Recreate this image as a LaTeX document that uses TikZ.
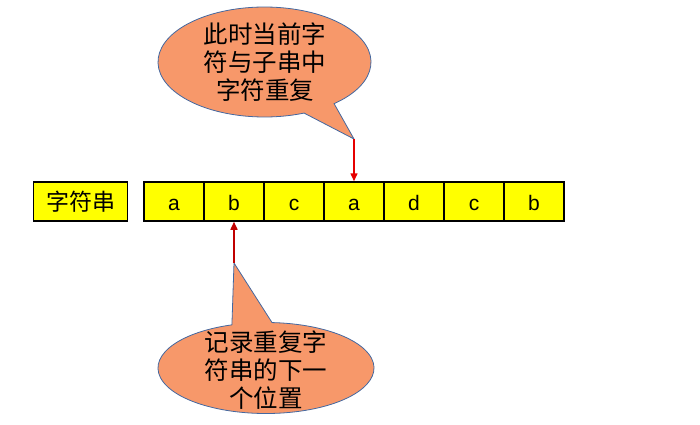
\documentclass[tikz,border=0pt]{standalone}
\usepackage{fontspec}
\setmainfont{Liberation Sans}
\newfontfamily\cjk{Noto Sans CJK SC}
\usetikzlibrary{arrows.meta,calc}
\definecolor{calloutfill}{RGB}{247,152,106}
\definecolor{calloutline}{RGB}{68,104,160}
\definecolor{boxyellow}{RGB}{255,255,0}
\definecolor{arrowred}{RGB}{230,0,0}
\definecolor{darkred}{RGB}{192,0,0}
\tikzset{
  cell/.style={draw=black, line width=1.5pt, fill=boxyellow, minimum width=60pt,
    minimum height=39pt, inner sep=0pt, font=\fontsize{21}{24}\selectfont,
    text height=19pt, text depth=1pt},
  labelbox/.style={draw=black, line width=1.5pt, fill=boxyellow, minimum width=94pt,
    minimum height=39pt, inner sep=0pt, font=\cjk\fontsize{23}{26}\selectfont},
  callout/.style={fill=calloutfill, draw=calloutline, line width=0.8pt, line join=round},
  callouttext/.style={align=center, inner sep=0pt, font=\cjk\fontsize{24.5}{28}\selectfont},
  pointer/.style={line width=1.5pt, -{Triangle[width=7pt,length=8pt]}}
}
\begin{document}
\begin{tikzpicture}[x=1pt,y=1pt]
\useasboundingbox (0,0) rectangle (700,424);
% string boxes
\node[labelbox] (lbl) at (80.5,222.5) {字符串};
\node[cell] (c1) at (174,222.5) {a};
\node[cell] (c2) at (234,222.5) {b};
\node[cell] (c3) at (294,222.5) {c};
\node[cell] (c4) at (354,222.5) {a};
\node[cell] (c5) at (414,222.5) {d};
\node[cell] (c6) at (474,222.5) {c};
\node[cell] (c7) at (534,222.5) {b};
% top callout
\coordinate (tipA) at (354,285);
\coordinate (ctrA) at (264.5,362);
\draw[callout] ($(ctrA)+(-49.2:106.5pt and 55pt)$)
  arc[start angle=-49.2, end angle=291.8, x radius=106.5pt, y radius=55pt]
  -- (tipA) -- cycle;
\node[callouttext] (tA) at (265,362) {此时当前字\\符与子串中\\字符重复};
% bottom callout
\coordinate (tipB) at (234,161);
\coordinate (ctrB) at (266,56);
\draw[callout] ($(ctrB)+(108.4:108pt and 45.5pt)$)
  arc[start angle=108.4, end angle=446.8, x radius=108pt, y radius=45.5pt]
  -- (tipB) -- cycle;
\node[callouttext] (tB) at (266,54) {记录重复字\\符串的下一\\个位置};
% pointers
\draw[pointer, draw=arrowred, fill=arrowred] (tipA) -- (c4.north);
\draw[pointer, draw=darkred, fill=arrowred] (tipB) -- (c2.south);
\end{tikzpicture}
\end{document}
